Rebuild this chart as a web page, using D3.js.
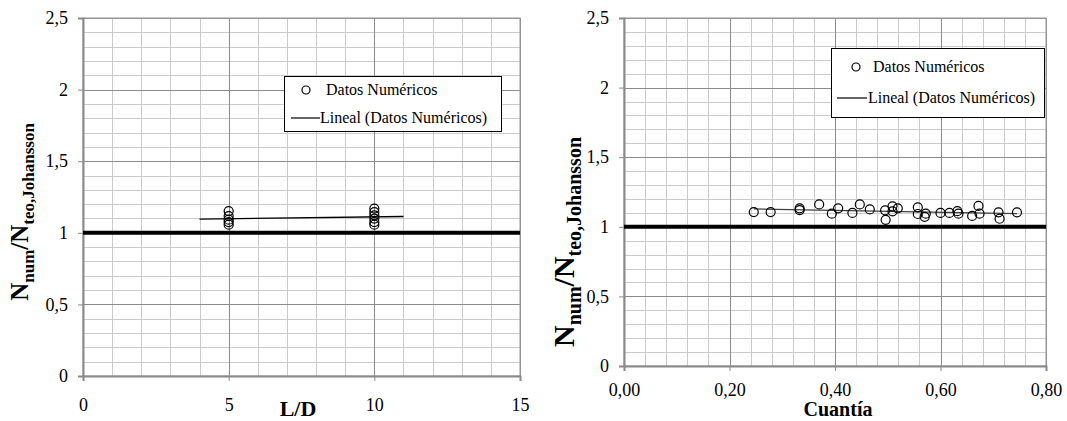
<!DOCTYPE html>
<html>
<head>
<meta charset="utf-8">
<script src="https://cdn.jsdelivr.net/npm/d3@7"></script>
<style>
  html, body { margin: 0; padding: 0; background: #fff; }
  svg, svg text { font-family: "Liberation Serif", "Times New Roman", Times, serif; }
</style>
</head>
<body>
<svg id="chart" width="1067" height="421"></svg>
<script>
// Ratio N_num / N_teo,Johansson versus slenderness L/D
const ldX = [5, 5, 5, 5, 5, 10, 10, 10, 10, 10, 10];
const ldY = [1.152, 1.117, 1.092, 1.075, 1.057, 1.169, 1.145, 1.122, 1.099, 1.075, 1.057];
const ldTicks = [0, 5, 10, 15];

// Same ratio versus reinforcement ratio (cuantía)
const cuantiaX = [0.246, 0.278, 0.333, 0.333, 0.370, 0.394, 0.406, 0.433, 0.447, 0.466,
                  0.495, 0.496, 0.509, 0.509, 0.519, 0.557, 0.557, 0.570, 0.572, 0.600,
                  0.617, 0.632, 0.634, 0.660, 0.672, 0.674, 0.710, 0.712, 0.745];
const cuantiaY = [1.106, 1.106, 1.133, 1.120, 1.161, 1.094, 1.133, 1.100, 1.161, 1.125,
                  1.118, 1.050, 1.147, 1.111, 1.133, 1.140, 1.092, 1.072, 1.094, 1.100,
                  1.100, 1.112, 1.094, 1.078, 1.150, 1.094, 1.104, 1.058, 1.104];
const cuantiaTicks = [0, 0.2, 0.4, 0.6, 0.8];

const yTicks = [0, 0.5, 1, 1.5, 2, 2.5];
const refValue = 1;

const legendLabels = ["Datos Numéricos", "Lineal (Datos Numéricos)"];

const SERIF = "'Liberation Serif', 'Times New Roman', Times, serif";
const svg = d3.select("#chart");
const commaFmt = d => d.toString().replace(".", ",");

// Least squares line through the points
function linearFit(xs, ys) {
  const mx = d3.mean(xs), my = d3.mean(ys);
  let sxy = 0, sxx = 0;
  xs.forEach((x, i) => { sxy += (x - mx) * (ys[i] - my); sxx += (x - mx) * (x - mx); });
  const b = sxy / sxx;
  return x => my + b * (x - mx);
}

function drawPanel(p) {
  const g = svg.append("g").attr("font-family", SERIF);
  const x = d3.scaleLinear().domain(p.xDomain).range(p.xRange);
  const y = d3.scaleLinear().domain([0, 2.5]).range(p.yRange);
  const [x0, x1] = p.xRange, [y0, y1] = p.yRange;
  const px = v => Math.round(v) + 0.5;

  // minor grid
  const vMinor = d3.range(p.xDomain[0], p.xDomain[1] + p.xMinor / 2, p.xMinor);
  const hMinor = d3.range(0, 2.5 + 0.05, 0.1);
  g.append("g").selectAll("line").data(vMinor).join("line")
    .attr("x1", d => px(x(d))).attr("x2", d => px(x(d)))
    .attr("y1", y1).attr("y2", y0)
    .attr("stroke", "#cbcbcb").attr("stroke-width", 1);
  g.append("g").selectAll("line").data(hMinor).join("line")
    .attr("x1", x0).attr("x2", x1)
    .attr("y1", d => px(y(d))).attr("y2", d => px(y(d)))
    .attr("stroke", "#cbcbcb").attr("stroke-width", 1);

  // major grid
  g.append("g").selectAll("line").data(p.xTicks).join("line")
    .attr("x1", d => px(x(d))).attr("x2", d => px(x(d)))
    .attr("y1", y1).attr("y2", y0)
    .attr("stroke", "#8c8c8c").attr("stroke-width", 1);
  g.append("g").selectAll("line").data(yTicks).join("line")
    .attr("x1", x0).attr("x2", x1)
    .attr("y1", d => px(y(d))).attr("y2", d => px(y(d)))
    .attr("stroke", "#8c8c8c").attr("stroke-width", 1);

  // plot frame
  g.append("rect").attr("x", x0).attr("y", y1).attr("width", x1 - x0).attr("height", y0 - y1)
    .attr("fill", "none").attr("stroke", "#9a9a9a").attr("stroke-width", 1);

  // axes
  const xAxis = d3.axisBottom(x).tickValues(p.xTicks).tickFormat(p.xFmt).tickSize(5).tickPadding(p.xPad);
  const yAxis = d3.axisLeft(y).tickValues(yTicks).tickFormat(commaFmt).tickSize(5).tickPadding(10);
  const gx = g.append("g").attr("transform", `translate(0,${y0})`).call(xAxis);
  const gy = g.append("g").attr("transform", `translate(${x0},0)`).call(yAxis);
  [gx, gy].forEach(a => {
    a.attr("font-family", SERIF).attr("font-size", 18);
    a.select(".domain").attr("stroke", "#8a8a8a").attr("stroke-width", 2);
    a.selectAll(".tick line").attr("stroke", "#8a8a8a").attr("stroke-width", 1);
    a.selectAll("text").attr("fill", "#000");
  });

  // reference line at ratio = 1
  g.append("line").attr("x1", x0).attr("x2", x1)
    .attr("y1", y(refValue)).attr("y2", y(refValue))
    .attr("stroke", "#000").attr("stroke-width", 4);

  // linear trend
  const fit = linearFit(p.xs, p.ys);
  const tx = [d3.min(p.xs) - p.extend, d3.max(p.xs) + p.extend];
  g.append("line")
    .attr("x1", x(tx[0])).attr("y1", y(fit(tx[0])))
    .attr("x2", x(tx[1])).attr("y2", y(fit(tx[1])))
    .attr("stroke", p.trendColor).attr("stroke-width", 1.3);

  // data points
  g.append("g").selectAll("circle").data(p.xs.map((v, i) => [v, p.ys[i]])).join("circle")
    .attr("cx", d => x(d[0])).attr("cy", d => y(d[1])).attr("r", 4.5)
    .attr("fill", "none").attr("stroke", "#000").attr("stroke-width", 1.2);

  // axis titles
  g.append("text").attr("x", p.xTitlePos[0]).attr("y", p.xTitlePos[1])
    .attr("text-anchor", "middle").attr("font-size", p.xTitleSize).attr("font-weight", "bold")
    .text(p.xTitle);

  const s = p.yTitleSize, sub = Math.round(s * 0.66), shift = Math.round(s * 0.22);
  const yt = g.append("text")
    .attr("transform", `translate(${p.yTitlePos[0]},${p.yTitlePos[1]}) rotate(-90)`)
    .attr("text-anchor", "middle").attr("font-weight", "bold").attr("font-size", s);
  yt.append("tspan").text("N");
  yt.append("tspan").attr("dy", shift).attr("font-size", sub).text("num");
  yt.append("tspan").attr("dy", -shift).text("/N");
  yt.append("tspan").attr("dy", shift).attr("font-size", sub).text("teo,Johansson");

  // legend
  const L = p.legend;
  g.append("rect").attr("x", L.x + 0.5).attr("y", L.y + 0.5).attr("width", L.w).attr("height", L.h)
    .attr("fill", "#fff").attr("stroke", "#000").attr("stroke-width", 1);
  g.append("circle").attr("cx", L.x + L.markX).attr("cy", L.y + L.row1)
    .attr("r", 4).attr("fill", "none").attr("stroke", "#000").attr("stroke-width", 1.2);
  g.append("text").attr("x", L.x + L.text1X).attr("y", L.y + L.row1 + 5)
    .attr("font-size", L.font).text(legendLabels[0]);
  g.append("line").attr("x1", L.x + L.lineX0).attr("x2", L.x + L.lineX1)
    .attr("y1", L.y + L.row2).attr("y2", L.y + L.row2)
    .attr("stroke", "#000").attr("stroke-width", 1.2);
  g.append("text").attr("x", L.x + L.text2X).attr("y", L.y + L.row2 + 5)
    .attr("font-size", L.font).text(legendLabels[1]);
}

drawPanel({
  xs: ldX, ys: ldY, xDomain: [0, 15], xRange: [83, 520], yRange: [376, 18],
  xTicks: ldTicks, xMinor: 1, xFmt: d => d, xPad: 17, extend: 1, trendColor: "#000",
  xTitle: "L/D", xTitleSize: 22, xTitlePos: [298, 416],
  yTitlePos: [28, 212], yTitleSize: 25,
  legend: { x: 284, y: 76, w: 217, h: 55, markX: 22, row1: 14, text1X: 42, lineX0: 7, lineX1: 36, row2: 42, text2X: 36, font: 16 }
});

drawPanel({
  xs: cuantiaX, ys: cuantiaY, xDomain: [0, 0.8], xRange: [624, 1046], yRange: [366, 18],
  xTicks: cuantiaTicks, xMinor: 0.04, xFmt: d => d3.format(".2f")(d).replace(".", ","), xPad: 12,
  extend: 0, trendColor: "#404040",
  xTitle: "Cuantía", xTitleSize: 20, xTitlePos: [838, 416],
  yTitlePos: [574, 242], yTitleSize: 30,
  legend: { x: 831, y: 48, w: 213, h: 69, markX: 25, row1: 19, text1X: 42, lineX0: 6, lineX1: 36, row2: 50, text2X: 37, font: 16 }
});
</script>
</body>
</html>
